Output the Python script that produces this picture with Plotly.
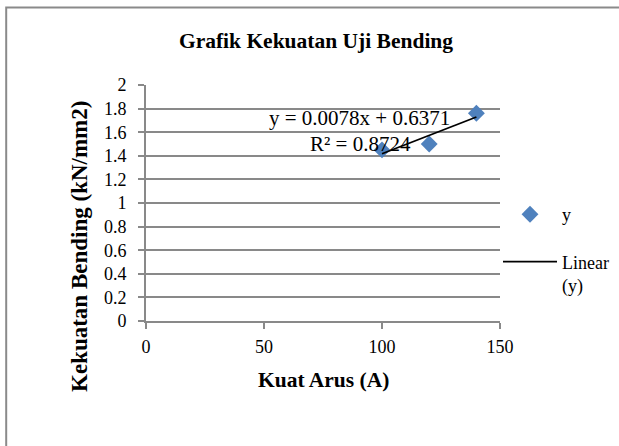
import numpy as np
import plotly.graph_objects as go

# ---- data ----
kuat_arus = [100, 120, 140]            # x (A)
kekuatan = [1.45, 1.50, 1.76]          # y (kN/mm2)
trend_coef = [0.0078, 0.6371]          # slope, intercept (as printed)
eq_text = "y = 0.0078x + 0.6371"
r2_text = "R² = 0.8724"
x_ticks = [0, 50, 100, 150]
y_ticks = [0, 0.2, 0.4, 0.6, 0.8, 1, 1.2, 1.4, 1.6, 1.8, 2]

FONT = "Liberation Serif"
GRID = "#898989"

W, H = 619, 446
L, R, T, B = 146, 119, 85, 125
PW, PH = W - L - R, H - T - B


def px_x(px):
    return (px - L) / PW


def px_y(py):
    return (H - B - py) / PH


trend_x = [min(kuat_arus), max(kuat_arus)]
trend_y = [trend_coef[0] * v + trend_coef[1] for v in trend_x]

fig = go.Figure()
fig.add_trace(go.Scatter(
    x=kuat_arus, y=kekuatan, mode="markers", name="y", legendgroup="a",
    marker=dict(symbol="diamond", size=13, color="#4F81BD"),
))
fig.add_trace(go.Scatter(
    x=trend_x, y=trend_y, mode="lines", name="Linear<br>(y)", legendgroup="b",
    line=dict(color="black", width=1.8),
))

fig.add_annotation(x=90.6, y=1.72, text=eq_text, showarrow=False,
                   font=dict(family=FONT, size=21, color="black"))
fig.add_annotation(x=90.7, y=1.50, text=r2_text, showarrow=False,
                   font=dict(family=FONT, size=21, color="black"))

# axis titles
fig.add_annotation(xref="paper", yref="paper", x=0.5, y=px_y(380),
                   xanchor="center", yanchor="middle", showarrow=False,
                   text="<b>Kuat Arus (A)</b>",
                   font=dict(family=FONT, size=21.5, color="black"))
fig.add_annotation(xref="paper", yref="paper", x=px_x(79), y=px_y(247),
                   xanchor="center", yanchor="middle", showarrow=False,
                   textangle=-90, text="<b>Kekuatan Bending (kN/mm2)</b>",
                   font=dict(family=FONT, size=23, color="black"))

# outer chart border (right/bottom edges fall outside the picture)
fig.add_shape(type="rect", xref="paper", yref="paper",
              x0=px_x(6.2), x1=px_x(720), y0=px_y(520), y1=px_y(7.5),
              line=dict(color="#8a8a8a", width=2), fillcolor="rgba(0,0,0,0)")

fig.update_layout(
    width=W, height=H,
    margin=dict(l=L, r=R, t=T, b=B, autoexpand=False),
    paper_bgcolor="white", plot_bgcolor="white",
    font=dict(family=FONT, size=18, color="black"),
    title=dict(text="<b>Grafik Kekuatan Uji Bending</b>", x=316 / W, xref="container",
               xanchor="center", y=1 - 40 / H, yanchor="middle",
               font=dict(family=FONT, size=21.5, color="black")),
    showlegend=True,
    legend=dict(x=px_x(498), xanchor="left", y=px_y(196), yanchor="top",
                itemwidth=54, valign="top", traceorder="grouped",
                font=dict(family=FONT, size=18, color="black"),
                bgcolor="rgba(0,0,0,0)", tracegroupgap=21),
    xaxis=dict(range=[0, 150], tickvals=x_ticks, ticktext=[str(v) for v in x_ticks],
               showgrid=False, zeroline=False, showline=True, linecolor=GRID, linewidth=2,
               ticks="outside", ticklen=6, tickcolor=GRID, tickwidth=2,
               ticklabelstandoff=2,
               tickfont=dict(family=FONT, size=18, color="black")),
    yaxis=dict(range=[0, 2], tickvals=y_ticks, ticktext=[f"{v:g}" for v in y_ticks],
               showgrid=True, gridcolor=GRID, gridwidth=2, zeroline=False,
               showline=True, linecolor=GRID, linewidth=2,
               ticks="outside", ticklen=6, tickcolor=GRID, tickwidth=2,
               ticklabelstandoff=8,
               tickfont=dict(family=FONT, size=18, color="black")),
)

fig.write_html("out.html", config={"displayModeBar": False},
               post_script="document.body.style.margin='0';document.body.style.overflow='hidden';")
